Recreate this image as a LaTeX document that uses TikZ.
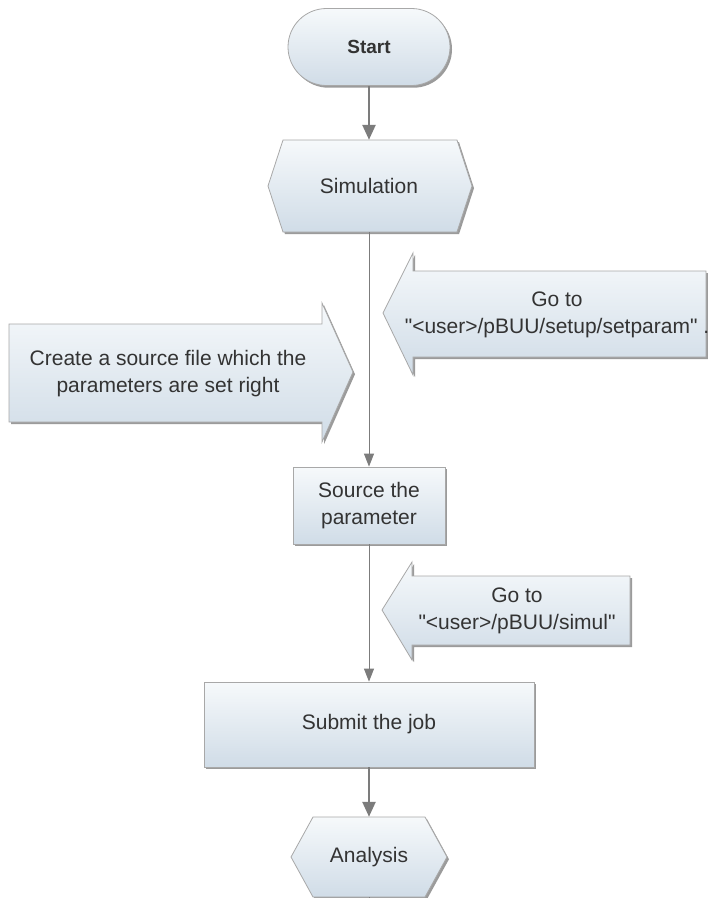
\documentclass[tikz,border=0pt]{standalone}
\usepackage{fontspec}
\setmainfont{Liberation Sans}[Ligatures=TeXOff]
\usetikzlibrary{arrows.meta,shadows,shapes.misc}
\definecolor{fillTop}{HTML}{F6F9FB}
\definecolor{fillBot}{HTML}{D0DCE7}
\definecolor{edgecol}{HTML}{A8A8A8}
\definecolor{txtcol}{HTML}{333333}
\definecolor{conncol}{HTML}{7C7C7C}
\definecolor{shadcol}{HTML}{8A8A8A}
\tikzset{
  shapefill/.style={draw=edgecol, line width=0.8pt, top color=fillTop, bottom color=fillBot,
    drop shadow={shadow xshift=2pt, shadow yshift=-2.2pt, fill=shadcol, opacity=0.85}},
  lbl/.style={text=txtcol, font=\fontsize{21}{27}\selectfont, align=center, inner sep=0pt},
  thickconn/.style={draw=conncol, line width=2.4pt, -{Triangle[length=15pt,width=13pt]}},
  thinconn/.style={draw=conncol, line width=1pt, -{Triangle[length=13pt,width=10pt]}},
  plainconn/.style={draw=conncol, line width=1pt},
}
\begin{document}
\begin{tikzpicture}[x=1pt,y=-1pt]
\useasboundingbox (0,0) rectangle (708,898);
\fill[white] (0,0) rectangle (708,898);

% Start
\node[shapefill, rounded rectangle, minimum width=162pt, minimum height=77pt, inner sep=0pt,
      text=txtcol, font=\fontsize{19}{23}\selectfont\bfseries] (start) at (369,47) {Start};

% Simulation hexagon
\draw[shapefill] (268,186) -- (283,140) -- (457,140) -- (472,186) -- (457,232) -- (283,232) -- cycle;
\node[lbl, minimum width=204pt, minimum height=92pt] (sim) at (369,186) {Simulation};

% Go to setparam (left-pointing)
\draw[shapefill] (383,313) -- (413,253) -- (413,271) -- (706,271) -- (706,357) -- (413,357) -- (413,375) -- cycle;
\node[lbl] (gosetup) at (557,315) {Go to\\"<user>/pBUU/setup/setparam" .};

% Create source (right-pointing)
\draw[shapefill] (9,324) -- (322,324) -- (322,303) -- (353,372) -- (322,442) -- (322,422) -- (9,422) -- cycle;
\node[lbl] (create) at (168,374) {Create a source file which the\\parameters are set right};

% Source the parameter
\node[shapefill, lbl, minimum width=152pt, minimum height=77pt] (src) at (369,505.5) {Source the\\parameter};

% Go to simul
\draw[shapefill] (382,610) -- (412,562) -- (412,576) -- (630,576) -- (630,645) -- (412,645) -- (412,660) -- cycle;
\node[lbl] (gosimul) at (517,611) {Go to\\"<user>/pBUU/simul"};

% Submit
\node[shapefill, lbl, minimum width=330pt, minimum height=85pt] (submit) at (369,724.5) {Submit the job};

% Analysis hexagon
\draw[shapefill] (291,857) -- (313,817) -- (425,817) -- (447,857) -- (425,897) -- (313,897) -- cycle;
\node[lbl, minimum width=156pt, minimum height=80pt] (ana) at (369,857) {Analysis};
\coordinate (bottomend) at (369,898);

% connectors
\draw[thickconn] (start.south) -- (sim.north);
\draw[thinconn] (sim.south) -- (src.north);
\draw[thinconn] (src.south) -- (submit.north);
\draw[thickconn] (submit.south) -- (ana.north);
\draw[plainconn] (ana.south) -- (bottomend);
\end{tikzpicture}
\end{document}
